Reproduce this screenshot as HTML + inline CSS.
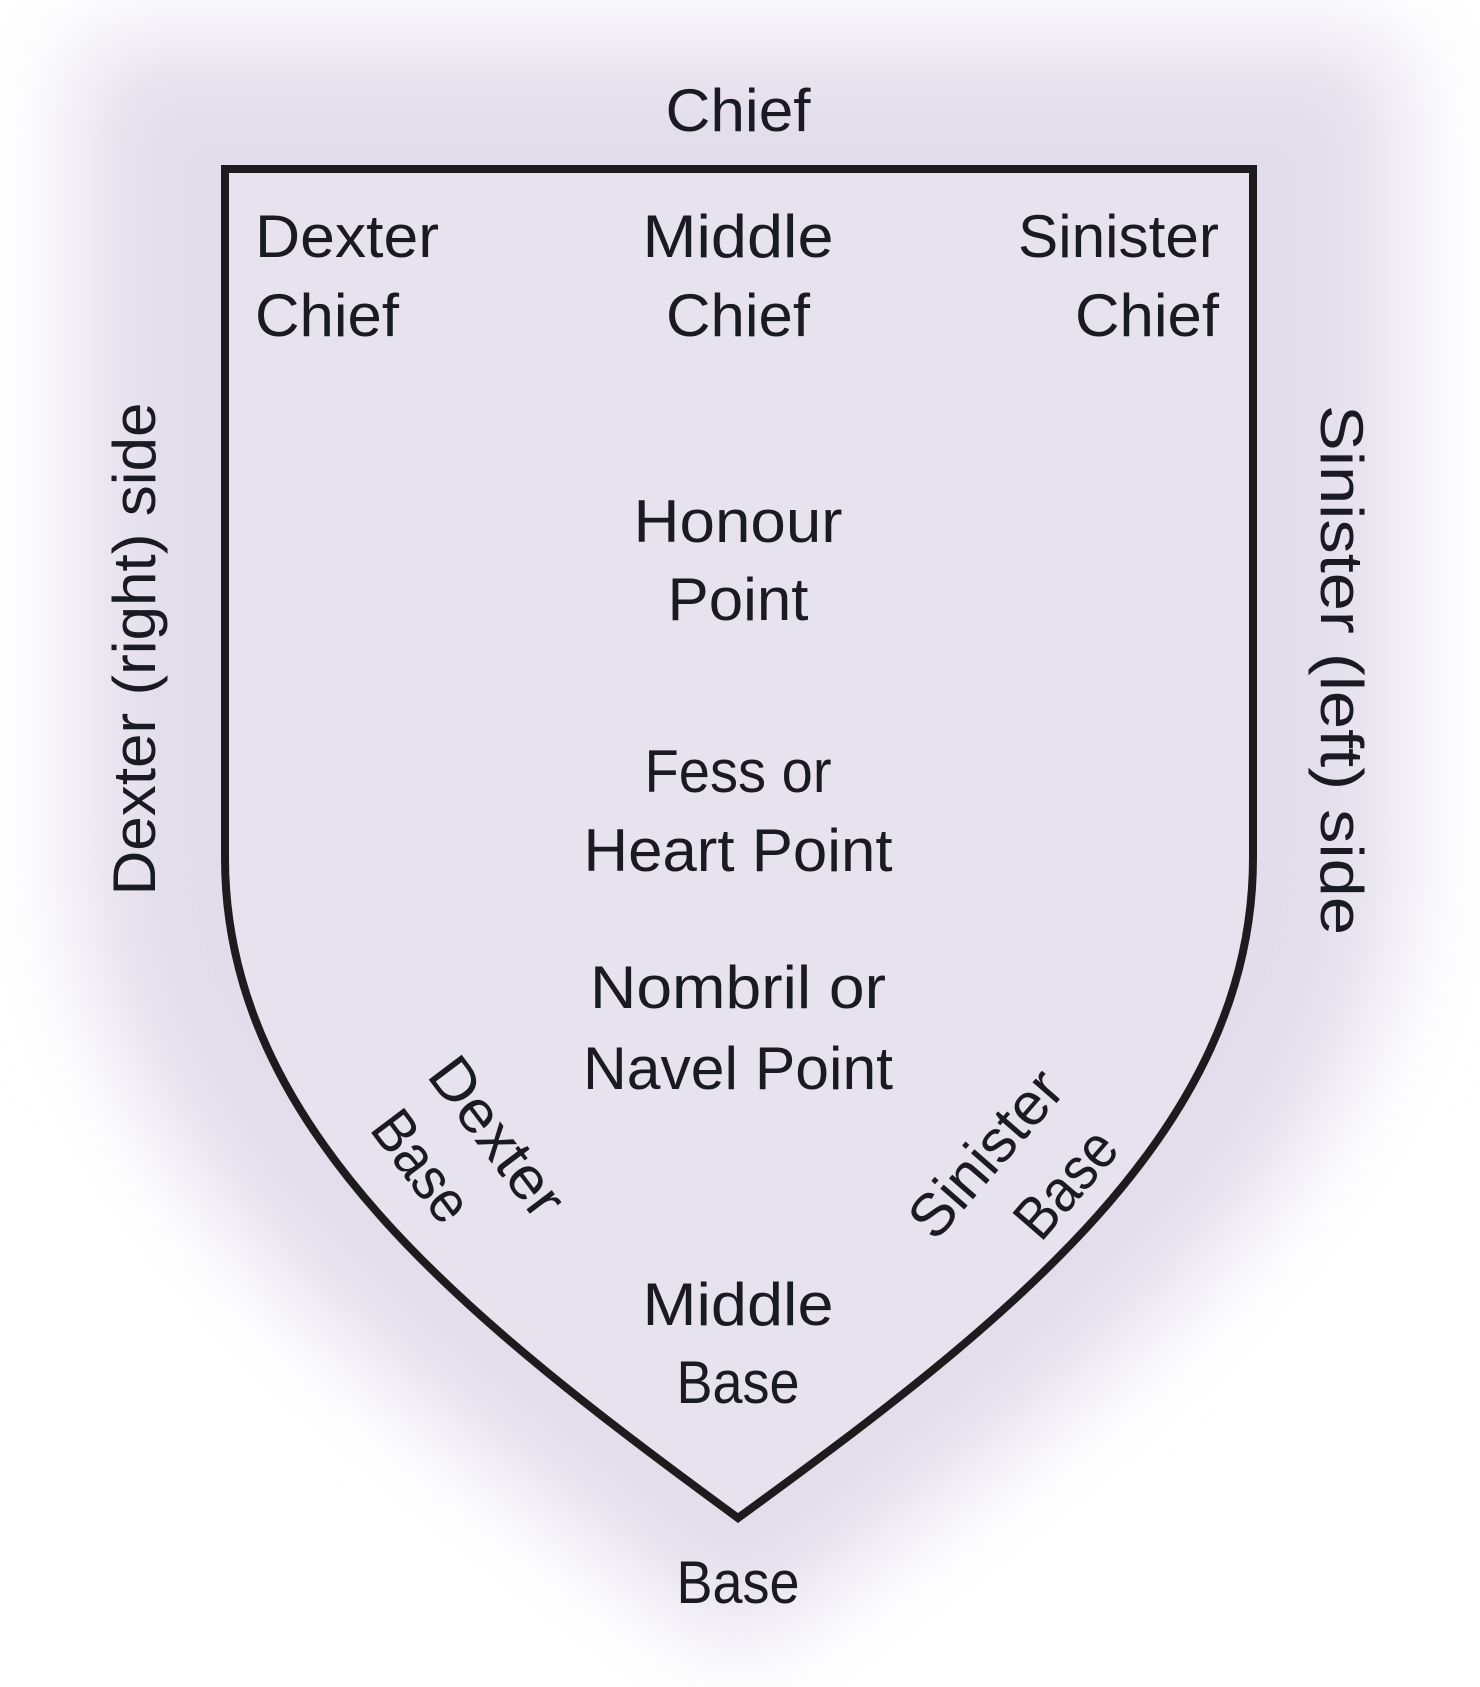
<!DOCTYPE html>
<html><head><meta charset="utf-8"><style>
html,body{margin:0;padding:0;background:#fff}
svg{display:block}
text{font-family:"Liberation Sans",sans-serif;font-size:60px;fill:#1a1a22;text-anchor:middle}
</style></head><body>
<svg width="1480" height="1687" viewBox="0 0 1480 1687" xmlns="http://www.w3.org/2000/svg">
<defs>
<filter id="b" x="-30%" y="-30%" width="160%" height="160%"><feGaussianBlur stdDeviation="50"/></filter>
</defs>
<path d="M80 40 L1400 40 L1400 860 C1400 1200 990 1450 738 1650 C490 1450 80 1200 80 860 Z" fill="#e2ddeb" filter="url(#b)"/>
<path d="M225 169 L1253 169 L1253 858 C1253 1130 1010 1320 738 1518 C468 1320 225 1130 225 858 Z" fill="#e6e2ee" stroke="#1c1c1f" stroke-width="8" stroke-linejoin="miter"/>
<text x="738" y="131" textLength="145" lengthAdjust="spacingAndGlyphs">Chief</text>
<text x="255" y="257" style="text-anchor:start" textLength="184" lengthAdjust="spacingAndGlyphs">Dexter</text>
<text x="255" y="336" style="text-anchor:start" textLength="144" lengthAdjust="spacingAndGlyphs">Chief</text>
<text x="738" y="257" textLength="191" lengthAdjust="spacingAndGlyphs">Middle</text>
<text x="738" y="336" textLength="144" lengthAdjust="spacingAndGlyphs">Chief</text>
<text x="1219" y="257" style="text-anchor:end" textLength="201" lengthAdjust="spacingAndGlyphs">Sinister</text>
<text x="1219" y="336" style="text-anchor:end" textLength="144" lengthAdjust="spacingAndGlyphs">Chief</text>
<text x="738" y="542" textLength="209" lengthAdjust="spacingAndGlyphs">Honour</text>
<text x="738" y="620" textLength="141" lengthAdjust="spacingAndGlyphs">Point</text>
<text x="738" y="792" textLength="187" lengthAdjust="spacingAndGlyphs">Fess or</text>
<text x="738" y="871" textLength="309" lengthAdjust="spacingAndGlyphs">Heart Point</text>
<text x="738" y="1008" textLength="296" lengthAdjust="spacingAndGlyphs">Nombril or</text>
<text x="738" y="1089" textLength="310" lengthAdjust="spacingAndGlyphs">Navel Point</text>
<text x="738" y="1325" textLength="191" lengthAdjust="spacingAndGlyphs">Middle</text>
<text x="738" y="1403" textLength="123" lengthAdjust="spacingAndGlyphs">Base</text>
<text x="738" y="1603" textLength="123" lengthAdjust="spacingAndGlyphs">Base</text>
<text transform="translate(155,649) rotate(-90)" x="0" y="0" textLength="493" lengthAdjust="spacingAndGlyphs">Dexter (right) side</text>
<text transform="translate(1321,670) rotate(90)" x="0" y="0" textLength="530" lengthAdjust="spacingAndGlyphs">Sinister (left) side</text>
<g transform="translate(481,1149) rotate(53)">
<text x="0" y="0" textLength="184" lengthAdjust="spacingAndGlyphs">Dexter</text>
<text x="-22" y="78" textLength="123" lengthAdjust="spacingAndGlyphs">Base</text>
</g>
<g transform="translate(1001,1167) rotate(-49)">
<text x="0" y="0" textLength="201" lengthAdjust="spacingAndGlyphs">Sinister</text>
<text x="30" y="80" textLength="123" lengthAdjust="spacingAndGlyphs">Base</text>
</g>
</svg>
</body></html>
